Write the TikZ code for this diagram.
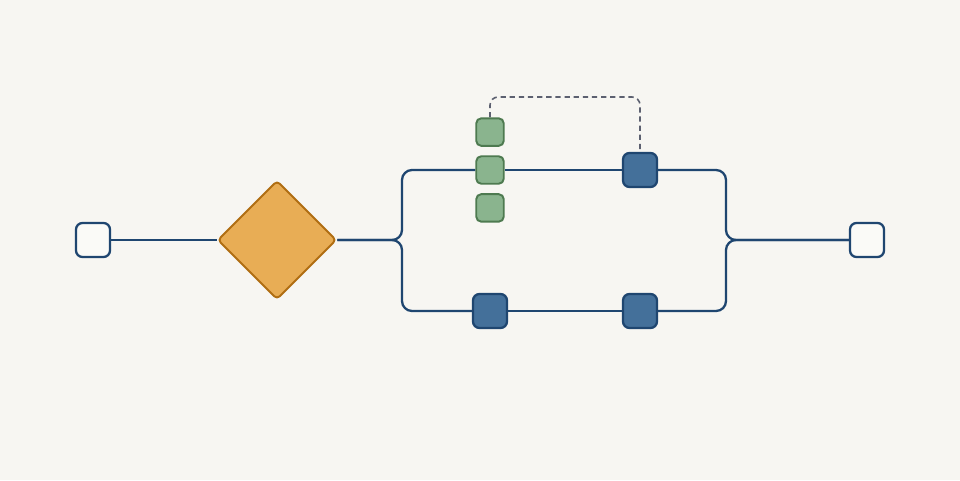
\documentclass[tikz,border=0pt]{standalone}
\usepackage{tikz}
\usetikzlibrary{positioning,shapes.geometric}

\definecolor{paper}{HTML}{F7F6F2}
\definecolor{wire}{HTML}{1F4670}
\definecolor{taskblue}{HTML}{44709A}
\definecolor{taskgreen}{HTML}{8AB48E}
\definecolor{greenline}{HTML}{4E7A50}
\definecolor{gate}{HTML}{E8AD55}
\definecolor{gateline}{HTML}{B06E12}
\definecolor{dashgray}{HTML}{5C6070}

\pgfdeclarelayer{bg}
\pgfsetlayers{bg,main}

\begin{document}
\begin{tikzpicture}[x=0.02cm, y=-0.02cm]
\tikzstyle{endbox} = [rectangle, rounded corners=0.13cm, minimum size=0.68cm,
  inner sep=0pt, draw=wire, line width=1.3pt, fill=white!40!paper]
\tikzstyle{task} = [rectangle, rounded corners=0.13cm, minimum size=0.68cm,
  inner sep=0pt, draw=wire, line width=1.3pt, fill=taskblue]
\tikzstyle{subtask} = [rectangle, rounded corners=0.1cm, minimum size=0.55cm,
  inner sep=0pt, draw=greenline, line width=1.1pt, fill=taskgreen]
\tikzstyle{gatebox} = [diamond, rounded corners=0.08cm, minimum width=2.38cm,
  minimum height=2.38cm, inner sep=0pt, draw=gateline, line width=1.1pt,
  fill=gate]
\tikzstyle{link} = [draw=wire, line width=1.3pt, rounded corners=0.2cm]
\tikzstyle{loopback} = [draw=dashgray, line width=0.9pt,
  dash pattern=on 3pt off 2.2pt, rounded corners=0.16cm]

\begin{pgfonlayer}{bg}
  \fill[paper] (0,0) rectangle (960,480);
\end{pgfonlayer}

\node[endbox] (start) at (93,240) {};
\node[gatebox] (fork) at (277,240) {};
\node[endbox] (stop) at (867,240) {};

\node[subtask] (sub2) at (490,170) {};
\node[subtask, above=0.17cm of sub2] (sub1) {};
\node[subtask, below=0.17cm of sub2] (sub3) {};

\node[task] (upper) at (640,170) {};
\node[task] (lowA) at (490,311) {};
\node[task] (lowB) at (640,311) {};

\coordinate (split) at (402,240);
\coordinate (merge) at (726,240);
\coordinate (looptop) at (565,97);

\begin{pgfonlayer}{bg}
  \draw[link] (start) -- (fork);
  \draw[link] (fork.east) -- (split) |- (sub2.west);
  \draw[link] (fork.east) -- (split) |- (lowA.west);
  \draw[link] (sub2) -- (upper);
  \draw[link] (lowA) -- (lowB);
  \draw[link] (upper.east) -| (merge) -- (stop.west);
  \draw[link] (lowB.east) -| (merge) -- (stop.west);
  \draw[loopback] (sub1.north) |- (looptop) -| (upper.north);
\end{pgfonlayer}
\end{tikzpicture}
\end{document}
